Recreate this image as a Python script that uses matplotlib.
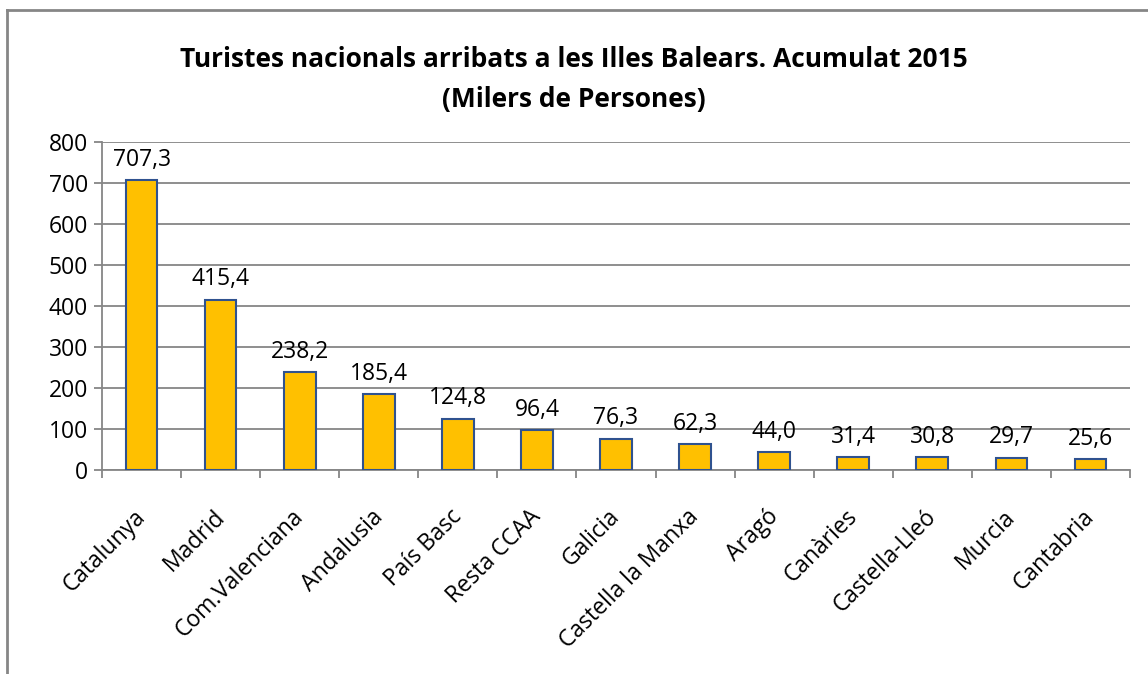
import matplotlib
matplotlib.use('Agg')
import matplotlib.pyplot as plt
import matplotlib.transforms as mtransforms
import numpy as np
from matplotlib.lines import Line2D

regions = ["Catalunya", "Madrid", "Com.Valenciana", "Andalusia", "País Basc",
           "Resta CCAA", "Galicia", "Castella la Manxa", "Aragó", "Canàries",
           "Castella-Lleó", "Murcia", "Cantabria"]
values = [707.3, 415.4, 238.2, 185.4, 124.8, 96.4, 76.3, 62.3, 44.0, 31.4, 30.8, 29.7, 25.6]
yticks = [0, 100, 200, 300, 400, 500, 600, 700, 800]

plt.rcParams['font.family'] = ['Open Sans', 'DejaVu Sans']

fig = plt.figure(figsize=(11.48, 6.74), dpi=100, facecolor="white")
ax = fig.add_axes([0.0889, 0.3027, 0.8954, 0.4866])

grid_color = "#868686"
x = np.arange(len(regions))
ax.bar(x, values, width=0.4, color="#FFC000", edgecolor="#2F528F", linewidth=1.5, zorder=3)

for xi, v in zip(x, values):
    ax.annotate(f"{v:.1f}".replace(".", ","), xy=(xi, v), xytext=(0, 6),
                textcoords="offset points", ha="center", va="bottom", fontsize=16.5)

ax.set_xlim(-0.5, len(regions) - 0.5)
ax.set_ylim(0, 800)
ax.set_yticks(yticks)
ax.set_yticklabels([str(t) for t in yticks], fontsize=16.5)
ax.yaxis.grid(True, color=grid_color, linewidth=1.3, zorder=0)

ax.set_xticks(x)
ax.set_xticklabels(regions, rotation=45, ha="right", va="top",
                   rotation_mode="anchor", fontsize=16.5)
ax.set_xticks(np.arange(-0.5, len(regions), 1.0), minor=True)
ax.tick_params(axis="x", which="major", length=0, pad=18)
ax.tick_params(axis="x", which="minor", length=6, width=1.3, color=grid_color)
ax.tick_params(axis="y", length=6, width=1.3, color=grid_color, pad=4)

# nudge rotated labels so their ends sit under the category centres
shift = mtransforms.ScaledTranslation(-8 / 100, -10 / 100, fig.dpi_scale_trans)
for lbl in ax.get_xticklabels():
    lbl.set_transform(lbl.get_transform() + shift)

for spine in ["top", "right"]:
    ax.spines[spine].set_visible(False)
for spine in ["left", "bottom"]:
    ax.spines[spine].set_color(grid_color)
    ax.spines[spine].set_linewidth(1.3)

fig.text(0.5, 0.912, "Turistes nacionals arribats a les Illes Balears. Acumulat 2015",
         ha="center", va="center", fontsize=19, fontweight="bold")
fig.text(0.5, 0.853, "(Milers de Persones)",
         ha="center", va="center", fontsize=19, fontweight="bold")

# chart frame (left and top edges visible)
fig.add_artist(Line2D([0.0065, 0.0065], [0, 1 - 10 / 674], transform=fig.transFigure,
                      color=grid_color, linewidth=2))
fig.add_artist(Line2D([0.0065, 1], [1 - 10 / 674, 1 - 10 / 674], transform=fig.transFigure,
                      color=grid_color, linewidth=2))

fig.savefig("out.png", dpi=100, facecolor="white")
